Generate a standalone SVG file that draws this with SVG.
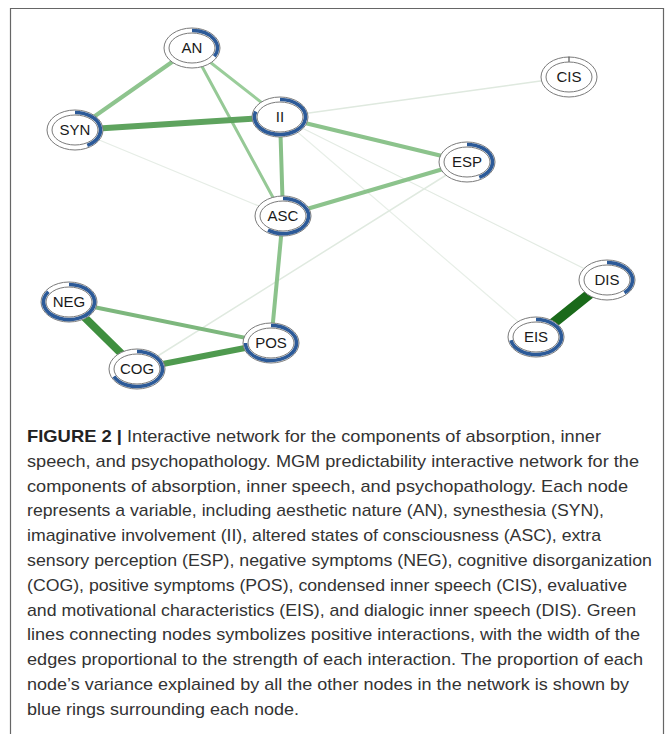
<svg xmlns="http://www.w3.org/2000/svg" width="668" height="734" viewBox="0 0 668 734">
<style>
.ring{fill:#fff;stroke:#7a7a7a;stroke-width:1}
.inner{fill:#fff;stroke:#7a7a7a;stroke-width:1}
.pie{fill:none;stroke:#2c5a98;stroke-width:3.6}
.lbl{font-family:"Liberation Sans",Arial,sans-serif;font-size:15px;fill:#1a1a1a;text-anchor:middle}
.cap{font-family:"Liberation Sans",Arial,sans-serif;font-size:17px;fill:#333}
.capb{font-family:"Liberation Sans",Arial,sans-serif;font-size:17px;fill:#222;font-weight:bold}
line{stroke-linecap:round}
</style>
<rect x="0" y="0" width="668" height="734" fill="#fff"/>
<path d="M10.5 740 V8.5 H663.5 V740" fill="none" stroke="#666" stroke-width="1.2"/>
<g id="edges">
<line x1="75" y1="130" x2="283" y2="216" stroke="#e6ede6" stroke-width="1.2"/>
<line x1="280" y1="117" x2="569" y2="77" stroke="#dfe9df" stroke-width="1.5"/>
<line x1="280" y1="117" x2="607" y2="280" stroke="#e3ebe3" stroke-width="1.2"/>
<line x1="280" y1="117" x2="536" y2="337" stroke="#e8efe8" stroke-width="1.2"/>
<line x1="467" y1="162" x2="137" y2="369" stroke="#e0eae0" stroke-width="1.5"/>
<line x1="75" y1="130" x2="192" y2="48" stroke="#8ec48e" stroke-width="4"/>
<line x1="192" y1="48" x2="280" y2="117" stroke="#9acd9a" stroke-width="3"/>
<line x1="192" y1="48" x2="283" y2="216" stroke="#96c996" stroke-width="3"/>
<line x1="75" y1="130" x2="280" y2="117" stroke="#5ea35e" stroke-width="6"/>
<line x1="280" y1="117" x2="467" y2="162" stroke="#8cc38c" stroke-width="4"/>
<line x1="280" y1="117" x2="283" y2="216" stroke="#88c088" stroke-width="4"/>
<line x1="283" y1="216" x2="467" y2="162" stroke="#8cc38c" stroke-width="4"/>
<line x1="283" y1="216" x2="271" y2="343" stroke="#8cc38c" stroke-width="4"/>
<line x1="69" y1="302" x2="271" y2="343" stroke="#7db77d" stroke-width="4"/>
<line x1="69" y1="302" x2="137" y2="369" stroke="#3f8f3f" stroke-width="8"/>
<line x1="137" y1="369" x2="271" y2="343" stroke="#4f9a4f" stroke-width="6"/>
<line x1="607" y1="280" x2="536" y2="337" stroke="#1a6a1a" stroke-width="10"/>
</g>
<g id="AN">
<ellipse class="ring" cx="192" cy="48" rx="28" ry="20"/>
<path class="pie" d="M192 30.5 A25.5 17.5 0 0 1 214.35 56.43"/>
<ellipse class="inner" cx="192" cy="48" rx="23" ry="15"/>
<text class="lbl" x="192" y="53">AN</text>
</g>
<g id="SYN">
<ellipse class="ring" cx="75" cy="130" rx="28" ry="20"/>
<path class="pie" d="M75 112.5 A25.5 17.5 0 0 1 87.29 145.34"/>
<ellipse class="inner" cx="75" cy="130" rx="23" ry="15"/>
<text class="lbl" x="75" y="135">SYN</text>
</g>
<g id="II">
<ellipse class="ring" cx="280" cy="117" rx="28" ry="20"/>
<path class="pie" d="M280 99.5 A25.5 17.5 0 1 1 255.75 111.59"/>
<ellipse class="inner" cx="280" cy="117" rx="23" ry="15"/>
<text class="lbl" x="280" y="122">II</text>
</g>
<g id="CIS">
<ellipse class="ring" cx="569" cy="77" rx="28" ry="20"/>
<line x1="569" y1="57" x2="569" y2="62" stroke="#555" stroke-width="1.2"/>
<ellipse class="inner" cx="569" cy="77" rx="23" ry="15"/>
<text class="lbl" x="569" y="82">CIS</text>
</g>
<g id="ESP">
<ellipse class="ring" cx="467" cy="162" rx="28" ry="20"/>
<path class="pie" d="M467 144.5 A25.5 17.5 0 0 1 479.29 177.34"/>
<ellipse class="inner" cx="467" cy="162" rx="23" ry="15"/>
<text class="lbl" x="467" y="167">ESP</text>
</g>
<g id="ASC">
<ellipse class="ring" cx="283" cy="216" rx="28" ry="20"/>
<path class="pie" d="M283 198.5 A25.5 17.5 0 1 1 268.01 230.16"/>
<ellipse class="inner" cx="283" cy="216" rx="23" ry="15"/>
<text class="lbl" x="283" y="221">ASC</text>
</g>
<g id="NEG">
<ellipse class="ring" cx="69" cy="302" rx="28" ry="20"/>
<path class="pie" d="M69 284.5 A25.5 17.5 0 1 1 48.37 291.71"/>
<ellipse class="inner" cx="69" cy="302" rx="23" ry="15"/>
<text class="lbl" x="69" y="307">NEG</text>
</g>
<g id="COG">
<ellipse class="ring" cx="137" cy="369" rx="28" ry="20"/>
<path class="pie" d="M137 351.5 A25.5 17.5 0 1 1 113.93 376.45"/>
<ellipse class="inner" cx="137" cy="369" rx="23" ry="15"/>
<text class="lbl" x="137" y="374">COG</text>
</g>
<g id="POS">
<ellipse class="ring" cx="271" cy="343" rx="28" ry="20"/>
<path class="pie" d="M271 325.5 A25.5 17.5 0 1 1 245.5 343"/>
<ellipse class="inner" cx="271" cy="343" rx="23" ry="15"/>
<text class="lbl" x="271" y="348">POS</text>
</g>
<g id="DIS">
<ellipse class="ring" cx="607" cy="280" rx="28" ry="20"/>
<path class="pie" d="M607 262.5 A25.5 17.5 0 0 1 624.45 292.76"/>
<ellipse class="inner" cx="607" cy="280" rx="23" ry="15"/>
<text class="lbl" x="607" y="285">DIS</text>
</g>
<g id="EIS">
<ellipse class="ring" cx="536" cy="337" rx="28" ry="20"/>
<path class="pie" d="M536 319.5 A25.5 17.5 0 1 1 510.95 340.28"/>
<ellipse class="inner" cx="536" cy="337" rx="23" ry="15"/>
<text class="lbl" x="536" y="342">EIS</text>
</g>
<g id="caption">
<text class="capb" x="27" y="442" textLength="95" lengthAdjust="spacingAndGlyphs">FIGURE 2 |</text>
<text class="cap" x="127" y="442" textLength="474" lengthAdjust="spacingAndGlyphs">Interactive network for the components of absorption, inner</text>
<text class="cap" x="27" y="466.8" textLength="612" lengthAdjust="spacingAndGlyphs">speech, and psychopathology. MGM predictability interactive network for the</text>
<text class="cap" x="27" y="491.6" textLength="601" lengthAdjust="spacingAndGlyphs">components of absorption, inner speech, and psychopathology. Each node</text>
<text class="cap" x="27" y="516.4" textLength="577" lengthAdjust="spacingAndGlyphs">represents a variable, including aesthetic nature (AN), synesthesia (SYN),</text>
<text class="cap" x="27" y="541.2" textLength="574" lengthAdjust="spacingAndGlyphs">imaginative involvement (II), altered states of consciousness (ASC), extra</text>
<text class="cap" x="27" y="566" textLength="625" lengthAdjust="spacingAndGlyphs">sensory perception (ESP), negative symptoms (NEG), cognitive disorganization</text>
<text class="cap" x="27" y="590.8" textLength="600" lengthAdjust="spacingAndGlyphs">(COG), positive symptoms (POS), condensed inner speech (CIS), evaluative</text>
<text class="cap" x="27" y="615.6" textLength="609" lengthAdjust="spacingAndGlyphs">and motivational characteristics (EIS), and dialogic inner speech (DIS). Green</text>
<text class="cap" x="27" y="640.4" textLength="613" lengthAdjust="spacingAndGlyphs">lines connecting nodes symbolizes positive interactions, with the width of the</text>
<text class="cap" x="27" y="665.2" textLength="616" lengthAdjust="spacingAndGlyphs">edges proportional to the strength of each interaction. The proportion of each</text>
<text class="cap" x="27" y="690" textLength="602" lengthAdjust="spacingAndGlyphs">node’s variance explained by all the other nodes in the network is shown by</text>
<text class="cap" x="27" y="714.8" textLength="272" lengthAdjust="spacingAndGlyphs">blue rings surrounding each node.</text>
</g>
</svg>
